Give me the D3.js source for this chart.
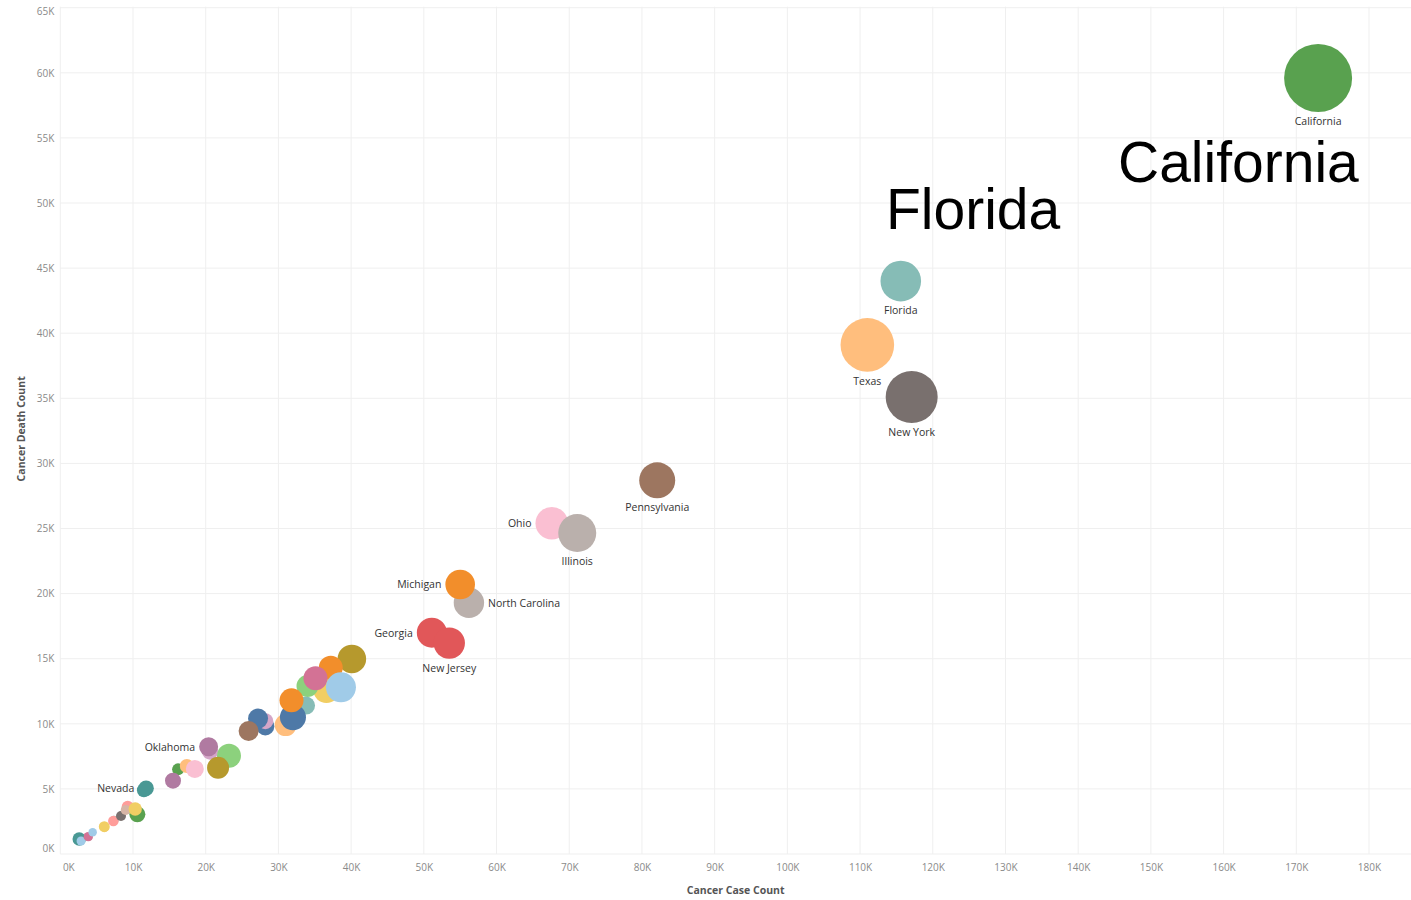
<!DOCTYPE html>
<html>
<head>
<meta charset="utf-8">
<script src="https://cdn.jsdelivr.net/npm/d3@7"></script>
<style>
  body { margin: 0; background: #fff; }
  svg { display: block; font-family: "Open Sans", "Noto Sans", sans-serif; }
</style>
</head>
<body>
<div id="chart"></div>
<script>
"use strict";

/* DATA */

// states in drawing order (later ones sit on top)
const states = [
    "California", "Florida", "Texas", "New York", "Pennsylvania", "Ohio", "Illinois",
    "North Carolina", "Michigan", "Georgia", "New Jersey",
    "Virginia", "Washington", "Missouri", "Tennessee", "Indiana", "Massachusetts",
    "Wisconsin", "Minnesota", "Maryland", "Arizona", "South Carolina", "Kentucky",
    "Alabama", "Louisiana", "Oregon", "Oklahoma", "Colorado", "Connecticut",
    "Mississippi", "Arkansas", "Iowa", "Kansas", "West Virginia", "Nevada",
    "Wyoming", "District of Columbia", "Alaska", "Vermont", "North Dakota",
    "South Dakota", "Montana", "Rhode Island", "Delaware", "New Hampshire", "Hawaii",
    "Idaho", "New Mexico", "Maine", "Utah", "Nebraska"
];

// cancer case count per state
const caseCounts = [
    173000, 115600, 111000, 117100, 82100, 67600, 71100,
    56200, 55000, 51100, 53500,
    40100, 36600, 34000, 37200, 35100, 38600,
    33800, 31000, 32000, 31800, 28200, 28200,
    27200, 25900, 20600, 20400, 23200, 21700,
    16200, 17400, 18500, 15500, 11500, 11800,
    2600, 2600, 2850, 3850, 3850,
    4450, 6050, 6100, 6050, 7400, 7300,
    8350, 9270, 9000, 10600, 10300
];

// cancer death count per state
const deathCounts = [
    59600, 44000, 39100, 35100, 28700, 25400, 24650,
    19300, 20700, 17000, 16200,
    14980, 12600, 12900, 14300, 13500, 12800,
    11400, 9900, 10500, 11800, 9800, 10200,
    10400, 9450, 7860, 8240, 7550, 6630,
    6500, 6760, 6530, 5630, 4900, 5050,
    1100, 1150, 1000, 1330, 1330,
    1670, 2100, 2050, 2100, 2600, 2530,
    2920, 3630, 3380, 3050, 3450
];

// value behind the bubble size
const bubbleSizes = [
    1156, 412, 718, 676, 324, 266, 361,
    231, 219, 225, 246,
    204, 169, 121, 144, 144, 225,
    81, 121, 169, 144, 81, 64,
    100, 100, 64, 90, 144, 121,
    36, 49, 81, 64, 49, 60,
    25, 45, 20, 16, 22,
    18, 20, 20, 30, 20, 28,
    25, 36, 25, 64, 45
];

// states that carry a label, and where the label goes
const labelledStates = {
    "California": "below", "Florida": "below", "Texas": "below", "New York": "below",
    "Pennsylvania": "below", "Illinois": "below", "New Jersey": "below",
    "Ohio": "left", "Michigan": "left", "Georgia": "left", "Oklahoma": "left",
    "Nevada": "left", "North Carolina": "right"
};

// axis ticks
const xTicks = [0, 10000, 20000, 30000, 40000, 50000, 60000, 70000, 80000, 90000,
    100000, 110000, 120000, 130000, 140000, 150000, 160000, 170000, 180000];
const yTicks = [0, 5000, 10000, 15000, 20000, 25000, 30000, 35000, 40000, 45000,
    50000, 55000, 60000, 65000];

// tableau 20 palette, handed out in alphabetical order of state
const tableau20 = ["#4e79a7", "#a0cbe8", "#f28e2b", "#ffbe7d", "#59a14f", "#8cd17d",
    "#b6992d", "#f1ce63", "#499894", "#86bcb6", "#e15759", "#ff9d9a", "#79706e",
    "#bab0ac", "#d37295", "#fabfd2", "#b07aa1", "#d4a6c8", "#9d7660", "#d7b5a6"];


/* SVG SETUP */

let svgWidth = 1411;
let svgHeight = 900;

let svg = d3.select("#chart")
    .append("svg")
    .attr("width", svgWidth)
    .attr("height", svgHeight);

// plot area
let plotLeft = 60.3;
let plotRight = 1411;
let plotTop = 7.7;
let plotBottom = 854;


/* SCALES */

let xScale = d3.scaleLinear()
    .domain([0, 180000])
    .range([plotLeft, 1369]);

let yScale = d3.scaleLinear()
    .domain([0, 65000])
    .range([plotBottom, plotTop]);

let rScale = d3.scaleSqrt()
    .domain([0, d3.max(bubbleSizes)])
    .range([0, 34]);

let colorScale = d3.scaleOrdinal()
    .domain(states.slice().sort())
    .range(tableau20);

let data = states.map(function (s, i) {
    return { state: s, cases: caseCounts[i], deaths: deathCounts[i], size: bubbleSizes[i] };
});

let kFormat = function (v) { return (v / 1000) + "K"; };


/* GRIDLINES */

svg.append("g")
    .selectAll("line")
    .data(xTicks)
    .join("line")
    .attr("x1", d => xScale(d))
    .attr("x2", d => xScale(d))
    .attr("y1", plotTop - 1)
    .attr("y2", plotBottom)
    .attr("stroke", "#efefef")
    .attr("stroke-width", 1);

svg.append("g")
    .selectAll("line")
    .data(yTicks)
    .join("line")
    .attr("x1", plotLeft)
    .attr("x2", plotRight)
    .attr("y1", d => yScale(d))
    .attr("y2", d => yScale(d))
    .attr("stroke", "#efefef")
    .attr("stroke-width", 1);


/* AXES */

// x axis tick labels
let xAxis = svg.append("g")
    .attr("transform", "translate(0," + plotBottom + ")")
    .call(d3.axisBottom(xScale).tickValues(xTicks).tickFormat(kFormat).tickSize(0).tickPadding(10));

// y axis tick labels
let yAxis = svg.append("g")
    .attr("transform", "translate(" + (plotLeft - 6) + ",0)")
    .call(d3.axisLeft(yScale).tickValues(yTicks).tickFormat(kFormat).tickSize(0).tickPadding(0));

[xAxis, yAxis].forEach(function (ax) {
    ax.select(".domain").remove();
    ax.selectAll("text")
        .attr("fill", "#8a8a8a")
        .attr("font-size", "10px")
        .attr("font-family", "'Open Sans', sans-serif");
});

// first and last labels are nudged inside the plot like the original
xAxis.selectAll("text").filter(d => d === 0).attr("dx", "8px");
yAxis.selectAll("text").filter(d => d === 65000).attr("transform", "translate(0,4)");
yAxis.selectAll("text").filter(d => d === 0).attr("transform", "translate(0,-6)");

// axis titles
svg.append("text")
    .attr("x", (plotLeft + plotRight) / 2)
    .attr("y", 894)
    .attr("text-anchor", "middle")
    .attr("font-size", "10.5px")
    .attr("font-weight", "bold")
    .attr("fill", "#555")
    .text("Cancer Case Count");

svg.append("text")
    .attr("transform", "rotate(-90)")
    .attr("x", -(plotTop + plotBottom) / 2 + 2)
    .attr("y", 25)
    .attr("text-anchor", "middle")
    .attr("font-size", "10.5px")
    .attr("font-weight", "bold")
    .attr("fill", "#555")
    .text("Cancer Death Count");


/* BUBBLES */

svg.append("g")
    .selectAll("circle")
    .data(data)
    .join("circle")
    .attr("cx", d => xScale(d.cases))
    .attr("cy", d => yScale(d.deaths))
    .attr("r", d => rScale(d.size))
    .attr("fill", d => colorScale(d.state));


/* STATE LABELS */

let labelData = data.filter(d => labelledStates[d.state]);

svg.append("g")
    .selectAll("text")
    .data(labelData)
    .join("text")
    .attr("x", function (d) {
        let side = labelledStates[d.state];
        let cx = xScale(d.cases);
        if (side === "left") return cx - rScale(d.size) - 4;
        if (side === "right") return cx + rScale(d.size) + 4;
        return cx;
    })
    .attr("y", function (d) {
        let cy = yScale(d.deaths);
        if (labelledStates[d.state] === "below") return cy + rScale(d.size) + 13;
        return cy + 4;
    })
    .attr("text-anchor", function (d) {
        let side = labelledStates[d.state];
        if (side === "left") return "end";
        if (side === "right") return "start";
        return "middle";
    })
    .attr("font-size", "10.5px")
    .attr("fill", "#333")
    .text(d => d.state);


/* ANNOTATIONS */

// big callouts placed over the chart
svg.append("text")
    .attr("x", 886)
    .attr("y", 229)
    .attr("font-family", "'Liberation Sans', Arial, sans-serif")
    .attr("font-size", "57px")
    .attr("fill", "#000")
    .text("Florida");

svg.append("text")
    .attr("x", 1118)
    .attr("y", 182)
    .attr("font-family", "'Liberation Sans', Arial, sans-serif")
    .attr("font-size", "57px")
    .attr("fill", "#000")
    .text("California");
</script>
</body>
</html>
